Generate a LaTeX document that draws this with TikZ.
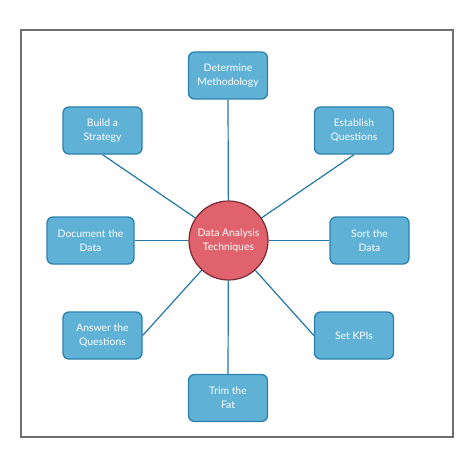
\documentclass[tikz,border=0pt]{standalone}
\usepackage{fontspec}
\setmainfont{Lato}
\begin{document}
\begin{tikzpicture}[x=1pt,y=-1pt,font=\fontsize{10.4}{14}\selectfont]
  \definecolor{frame}{HTML}{6E6E6E}
  \definecolor{boxfill}{HTML}{5FB1D6}
  \definecolor{boxline}{HTML}{2C80AD}
  \definecolor{spoke}{HTML}{2276A8}
  \definecolor{hubfill}{HTML}{E0626C}
  \definecolor{hubline}{HTML}{7A2A33}
  \tikzset{
    stepbox/.style={draw=boxline,fill=boxfill,line width=1.3pt,rounded corners=6pt,
      text=white,align=center,minimum width=79pt,minimum height=47pt,inner xsep=6pt},
    hub/.style={circle,draw=hubline,fill=hubfill,line width=1.2pt,text=white,
      align=center,minimum size=79pt,inner sep=0pt},
    spokeline/.style={spoke,line width=1.2pt}
  }
  \path[use as bounding box] (0,0) rectangle (470,457);
  \draw[frame,line width=1.3pt] (21,30) rectangle (453,437);
  \node[hub] (hub) at (228.5,240.5) {Data Analysis\\Techniques};
  \foreach \name/\pos/\boxwd/\lab in {
    method/{(228,75.5)}/79/{Determine\\Methodology},
    strategy/{(102.5,130.5)}/79/{Build a\\Strategy},
    questions/{(354,130.5)}/79/{Establish\\Questions},
    document/{(90.5,240.5)}/87/{Document the\\Data},
    sort/{(369.5,240.5)}/79/{Sort the\\Data},
    answer/{(102.5,335.5)}/79/{Answer the\\Questions},
    kpis/{(354,335.5)}/79/{Set KPIs},
    trim/{(228,398)}/79/{Trim the\\Fat}}{
    \node[stepbox,minimum width=\boxwd pt] (\name) at \pos {\lab};
  }
  % spokes end on the hub border
  \foreach \from in {method.south,strategy.south,questions.south,document.east,
    sort.west,answer.east,kpis.west,trim.north}{
    \draw[spokeline] (\from) -- (hub);
  }
\end{tikzpicture}
\end{document}
